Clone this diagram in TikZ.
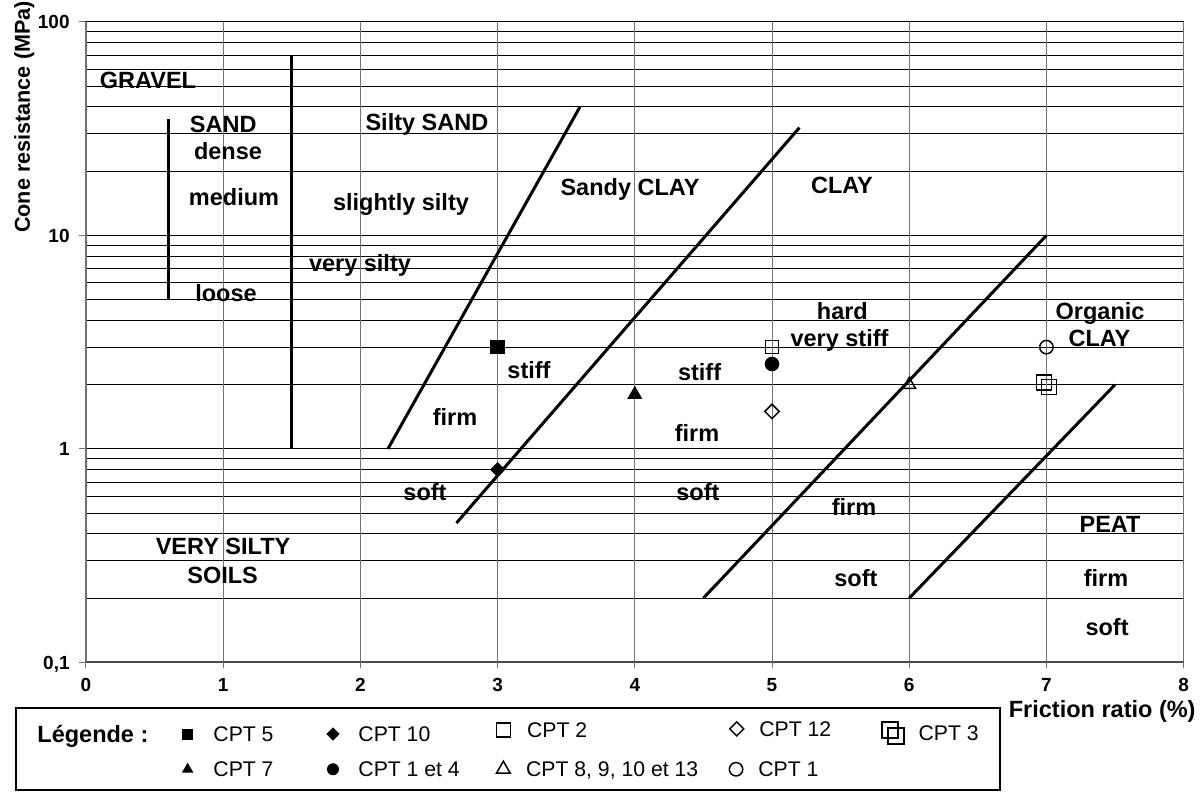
\documentclass[tikz,border=0pt]{standalone}
\usepackage{fontspec}
\setmainfont{Liberation Sans}
\usetikzlibrary{shapes.geometric}

\tikzset{
  zone/.style={font=\bfseries\fontsize{11.75}{14}\selectfont, inner sep=0pt, text height=8.4pt, text depth=0pt},
  ticklab/.style={font=\bfseries\fontsize{9.5}{11}\selectfont, inner sep=0pt, text height=6.8pt, text depth=0pt},
  legtext/.style={font=\fontsize{10.6}{12}\selectfont, anchor=west, inner sep=0pt, text height=7.6pt, text depth=0pt},
  boundary/.style={line width=1.5pt},
  hgrid/.style={line width=0.5pt},
  vgrid/.style={line width=0.5pt, black!55},
  fillsq/.style={rectangle, fill, inner sep=0pt, minimum size=#1},
  fillsq/.default=7.3pt,
  filldia/.style={diamond, fill, inner sep=0pt, minimum size=#1},
  filldia/.default=7.8pt,
  filltri/.style={regular polygon, regular polygon sides=3, fill, inner sep=0pt, minimum size=#1},
  filltri/.default=8.7pt,
  filldot/.style={circle, fill, inner sep=0pt, minimum size=#1},
  filldot/.default=7.3pt,
  opensq/.style={rectangle, draw, line width=0.75pt, inner sep=0pt, minimum size=#1},
  opensq/.default=6.5pt,
  opendia/.style={diamond, draw, line width=0.75pt, inner sep=0pt, minimum size=#1},
  opendia/.default=7.5pt,
  opentri/.style={regular polygon, regular polygon sides=3, draw, line width=0.75pt, inner sep=0pt, minimum size=#1},
  opentri/.default=7.3pt,
  opencirc/.style={circle, draw, line width=0.75pt, inner sep=0pt, minimum size=#1},
  opencirc/.default=6.7pt
}

\begin{document}
\begin{tikzpicture}[x=68.6pt,y=106.75pt]
\useasboundingbox (-0.6268,-1.6066) rectangle (8.1195,2.1030);

\foreach \d in {-1,0,1}
  \foreach \k in {2,...,9}
    \draw[hgrid] (0,{\d+log10(\k)}) -- (8,{\d+log10(\k)});
\foreach \d in {0,1,2}
  \draw[hgrid] (0,\d) -- (8,\d);
\foreach \x in {1,...,7}
  \draw[vgrid] (\x,-1) -- (\x,2);
\draw[vgrid, line width=0.75pt] (0,-1) -- (0,2) (8,-1) -- (8,2);
\draw[line width=1pt, black!70] (0,-1) -- (8,-1);
\foreach \x in {0,...,8}
  \draw[vgrid] (\x,-1) -- (\x,-1.027);
\foreach \d in {-1,...,2}
  \draw[vgrid] (-0.05,\d) -- (0,\d);

\foreach \x in {0,...,8}
  \node[ticklab] (xlab\x) at (\x,-1.105) {\x};
\node[ticklab, anchor=east] (ylabA) at (-0.1166,2) {100};
\node[ticklab, anchor=east] (ylabB) at (-0.1166,1) {10};
\node[ticklab, anchor=east] (ylabC) at (-0.1166,0) {1};
\node[ticklab, anchor=east] (ylabD) at (-0.1166,-1) {0,1};
\node[zone, font=\bfseries\fontsize{10.8}{13}\selectfont, rotate=90] (ytitle) at (-0.47,1.555) {Cone resistance (MPa)};
\node[zone, anchor=east] (xtitle) at (8.09,-1.218) {Friction ratio (\%)};

\draw[boundary] (0.6,{log10(5)}) -- (0.6,{log10(35)});
\draw[boundary] (1.5,0) -- (1.5,{log10(70)});
\draw[boundary] (2.2,0) -- (3.6,{log10(40)});
\draw[boundary] (2.7,{log10(0.45)}) -- (5.2,{log10(32)});
\draw[boundary] (4.5,{log10(0.2)}) -- (7,1);
\draw[boundary] (6,{log10(0.2)}) -- (7.5,{log10(2)});

\node[zone] (gravel) at (0.452,1.728) {GRAVEL};
\node[zone] (sand) at (1.0,1.522) {SAND};
\node[zone] (dense) at (1.035,1.396) {dense};
\node[zone] (medium) at (1.079,1.180) {medium};
\node[zone] (loose) at (1.020,0.731) {loose};
\node[zone] (siltysand) at (2.485,1.532) {Silty SAND};
\node[zone] (slightly) at (2.296,1.157) {slightly silty};
\node[zone] (verysilty) at (1.997,0.871) {very silty};
\node[zone] (sandyclay) at (3.965,1.227) {Sandy CLAY};
\node[zone] (clay) at (5.510,1.237) {CLAY};
\node[zone] (hard) at (5.513,0.646) {hard};
\node[zone] (verystiff) at (5.492,0.520) {very stiff};
\node[zone] (organic) at (7.391,0.646) {Organic};
\node[zone] (orgclay) at (7.387,0.520) {CLAY};
\node[zone] (stiffa) at (3.229,0.370) {stiff};
\node[zone] (firma) at (2.690,0.150) {firm};
\node[zone] (softa) at (2.471,-0.201) {soft};
\node[zone] (stiffb) at (4.472,0.362) {stiff};
\node[zone] (firmb) at (4.453,0.075) {firm};
\node[zone] (softb) at (4.460,-0.201) {soft};
\node[zone] (firmc) at (5.598,-0.272) {firm};
\node[zone] (softc) at (5.612,-0.604) {soft};
\node[zone] (verysiltysoils) at (0.999,-0.454) {VERY SILTY};
\node[zone] (soils) at (0.996,-0.590) {SOILS};
\node[zone] (peat) at (7.464,-0.351) {PEAT};
\node[zone] (firmd) at (7.434,-0.604) {firm};
\node[zone] (softd) at (7.442,-0.834) {soft};

\node[fillsq] (cpt5) at (3,{log10(3)}) {};
\node[filldia] (cpt10) at (3,{log10(0.8)}) {};
\node[filltri] (cpt7) at (4,{log10(1.8)}) {};
\node[opensq] (cpt2) at (5,{log10(3)}) {};
\node[filldot] (cpt14) at (5,{log10(2.5)}) {};
\node[opendia] (cpt12) at (5,{log10(1.5)}) {};
\node[opentri] (cpt8) at (6,{log10(2)}) {};
\node[opencirc] (cpt1) at (7,{log10(3)}) {};
\node[opensq=7.5pt, xshift=-1.2pt, yshift=1.2pt] (cpt3a) at (7,{log10(2)}) {};
\node[opensq=7.5pt, xshift=1.2pt, yshift=-1.2pt] (cpt3b) at (7,{log10(2)}) {};

\draw[line width=0.85pt] (-0.510,-1.213) rectangle (6.662,-1.597);
\node[zone, anchor=west] (legtitle) at (-0.357,-1.335) {Légende :};
\node[fillsq=5.5pt] (lk5) at (0.741,-1.335) {};
\node[legtext] (lt5) at (0.926,-1.335) {CPT 5};
\node[filldia=6.8pt] (lk10) at (1.800,-1.335) {};
\node[legtext] (lt10) at (1.983,-1.335) {CPT 10};
\node[opensq=7pt] (lk2) at (3.042,-1.316) {};
\node[legtext] (lt2) at (3.212,-1.316) {CPT 2};
\node[opendia=7.3pt] (lk12) at (4.743,-1.311) {};
\node[legtext] (lt12) at (4.905,-1.311) {CPT 12};
\node[opensq=8pt, xshift=-1.5pt, yshift=1.5pt] (lk3a) at (5.882,-1.330) {};
\node[opensq=8pt, xshift=1.5pt, yshift=-1.5pt] (lk3b) at (5.882,-1.330) {};
\node[legtext] (lt3) at (6.066,-1.330) {CPT 3};
\node[filltri=6.6pt] (lk7) at (0.741,-1.50) {};
\node[legtext] (lt7) at (0.926,-1.50) {CPT 7};
\node[filldot=6pt] (lk14) at (1.800,-1.50) {};
\node[legtext] (lt14) at (1.983,-1.50) {CPT 1 et 4};
\node[opentri=8pt] (lk8) at (3.042,-1.50) {};
\node[legtext] (lt8) at (3.205,-1.50) {CPT 8, 9, 10 et 13};
\node[opencirc=6.7pt] (lk1) at (4.738,-1.50) {};
\node[legtext] (lt1) at (4.898,-1.50) {CPT 1};
\end{tikzpicture}
\end{document}
